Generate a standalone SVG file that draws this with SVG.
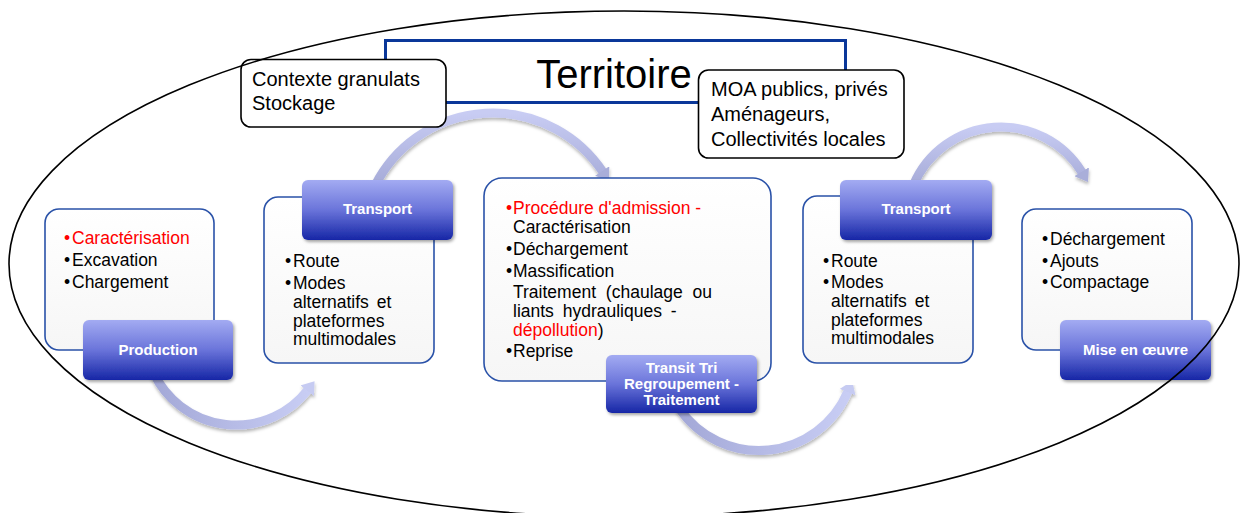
<svg xmlns="http://www.w3.org/2000/svg" width="1241" height="513" viewBox="0 0 1241 513">
  <defs>
    <style>
      .txt { font-family: "Liberation Sans", Arial, sans-serif; }
      .item { font-size: 17.5px; fill: #000; }
      .red { fill: #ff0000; }
      .box { font-size: 20px; fill: #000; }
      .lbl { font-size: 15px; font-weight: bold; fill: #ffffff; text-anchor: middle; }
      .panel { fill: url(#panelGrad); stroke: #2a52a8; stroke-width: 1.6; }
      .label { fill: url(#lblGrad); filter: url(#lblShadow); }
      .note { fill: #ffffff; stroke: #000; stroke-width: 1.6; }
      .arrowLo { fill: none; stroke: url(#arrowGradH); stroke-width: 9; filter: url(#arrowShadow); }
      .arrowHi { fill: none; stroke: url(#arrowGradV); stroke-width: 9; filter: url(#arrowShadow); }
    </style>
    <linearGradient id="lblGrad" x1="0" y1="0" x2="0" y2="1">
      <stop offset="0" stop-color="#a3abf2"/>
      <stop offset="0.5" stop-color="#6a74da"/>
      <stop offset="1" stop-color="#1626a6"/>
    </linearGradient>
    <linearGradient id="panelGrad" x1="0" y1="0" x2="0" y2="1">
      <stop offset="0" stop-color="#ffffff"/>
      <stop offset="1" stop-color="#f6f6f6"/>
    </linearGradient>
    <linearGradient id="arrowGradH" x1="0" y1="0" x2="1" y2="0">
      <stop offset="0" stop-color="#a3a8d7"/>
      <stop offset="1" stop-color="#c8cdf4"/>
    </linearGradient>
    <linearGradient id="arrowGradV" x1="0" y1="0" x2="0" y2="1">
      <stop offset="0" stop-color="#c8ccf3"/>
      <stop offset="1" stop-color="#a6abd8"/>
    </linearGradient>
    <filter id="lblShadow" x="-10%" y="-10%" width="130%" height="140%">
      <feDropShadow dx="1.5" dy="2" stdDeviation="1.5" flood-color="#000" flood-opacity="0.35"/>
    </filter>
    <filter id="arrowShadow" x="-10%" y="-10%" width="130%" height="140%">
      <feDropShadow dx="0.5" dy="2.5" stdDeviation="1.8" flood-color="#000" flood-opacity="0.28"/>
    </filter>
    <marker id="headLight" markerUnits="userSpaceOnUse" viewBox="0 0 12 17" markerWidth="12" markerHeight="17" refX="1" refY="8.5" orient="auto">
      <path d="M0,0 L12,8.5 L0,17 z" fill="#c6cbf2"/>
    </marker>
    <marker id="headDark" markerUnits="userSpaceOnUse" viewBox="0 0 12 17" markerWidth="12" markerHeight="17" refX="1" refY="8.5" orient="auto">
      <path d="M0,0 L12,8.5 L0,17 z" fill="#a9aed9"/>
    </marker>
  </defs>

  <rect width="1241" height="513" fill="#ffffff"/>

  <!-- title banner -->
  <g id="territoire">
    <rect x="385.5" y="40.5" width="460" height="62" fill="#ffffff" stroke="#0a3799" stroke-width="3"/>
    <text class="txt" x="614" y="88" font-size="40" text-anchor="middle" fill="#000">Territoire</text>
  </g>

  <!-- flow arrows between the stages -->
  <g id="connectors">
    <path class="arrowLo" d="M153.5,372.5 A91,91 0 0 0 307.8,389.9" marker-end="url(#headLight)"/>
    <path class="arrowHi" d="M375.4,185 A132,132 0 0 1 602.8,171.8" marker-end="url(#headDark)"/>
    <path class="arrowLo" d="M679,408 A96.5,96.5 0 0 0 848,391.2" marker-end="url(#headLight)"/>
    <path class="arrowHi" d="M913.5,185 A95,95 0 0 1 1082.2,172.6" marker-end="url(#headDark)"/>
  </g>

  <g id="contexte">
    <rect class="note" x="241" y="59.5" width="205" height="67.5" rx="10"/>
    <text class="txt box" x="252" y="86">Contexte granulats</text>
    <text class="txt box" x="252" y="110">Stockage</text>
  </g>

  <g id="moa">
    <rect class="note" x="698.5" y="70" width="205.5" height="88" rx="10"/>
    <text class="txt box" x="711" y="96">MOA publics, privés</text>
    <text class="txt box" x="711" y="121">Aménageurs,</text>
    <text class="txt box" x="711" y="146">Collectivités locales</text>
  </g>

  <g id="production">
    <rect class="panel" x="45" y="209" width="169" height="141" rx="14"/>
    <text class="txt item red" y="244"><tspan x="64">•</tspan><tspan x="72">Caractérisation</tspan></text>
    <text class="txt item" y="266"><tspan x="64">•</tspan><tspan x="72">Excavation</tspan></text>
    <text class="txt item" y="288"><tspan x="64">•</tspan><tspan x="72">Chargement</tspan></text>
    <rect class="label" x="83" y="320" width="150" height="60" rx="6"/>
    <text class="txt lbl" x="158" y="355">Production</text>
  </g>

  <g id="transport-1">
    <rect class="panel" x="264" y="197" width="170" height="166" rx="14"/>
    <text class="txt item" y="267"><tspan x="285">•</tspan><tspan x="293">Route</tspan></text>
    <text class="txt item" y="289"><tspan x="285">•</tspan><tspan x="293">Modes</tspan></text>
    <text class="txt item" x="293" y="308" word-spacing="3">alternatifs et</text>
    <text class="txt item" x="293" y="327">plateformes</text>
    <text class="txt item" x="293" y="345">multimodales</text>
    <rect class="label" x="302" y="180" width="151" height="60" rx="6"/>
    <text class="txt lbl" x="377.5" y="214">Transport</text>
  </g>

  <g id="transit">
    <rect class="panel" x="484" y="178" width="287" height="203" rx="18"/>
    <text class="txt item red" y="214"><tspan x="506">•</tspan><tspan x="513">Procédure d'admission -</tspan></text>
    <text class="txt item" x="513" y="233">Caractérisation</text>
    <text class="txt item" y="255"><tspan x="506">•</tspan><tspan x="513">Déchargement</tspan></text>
    <text class="txt item" y="277"><tspan x="506">•</tspan><tspan x="513">Massification</tspan></text>
    <text class="txt item" x="513" y="298" word-spacing="5">Traitement (chaulage ou</text>
    <text class="txt item" x="513" y="317" word-spacing="4">liants hydrauliques -</text>
    <text class="txt item" x="513" y="336"><tspan class="red">dépollution</tspan>)</text>
    <text class="txt item" y="357"><tspan x="506">•</tspan><tspan x="513">Reprise</tspan></text>
    <rect class="label" x="606" y="355" width="151" height="58" rx="6"/>
    <text class="txt lbl" x="681.5" y="373">Transit Tri</text>
    <text class="txt lbl" x="681.5" y="389">Regroupement -</text>
    <text class="txt lbl" x="681.5" y="405">Traitement</text>
  </g>

  <g id="transport-2">
    <rect class="panel" x="803" y="196" width="170" height="167" rx="14"/>
    <text class="txt item" y="267"><tspan x="823">•</tspan><tspan x="831">Route</tspan></text>
    <text class="txt item" y="288"><tspan x="823">•</tspan><tspan x="831">Modes</tspan></text>
    <text class="txt item" x="831" y="307" word-spacing="3">alternatifs et</text>
    <text class="txt item" x="831" y="326">plateformes</text>
    <text class="txt item" x="831" y="344">multimodales</text>
    <rect class="label" x="840" y="180" width="152" height="60" rx="6"/>
    <text class="txt lbl" x="916" y="214">Transport</text>
  </g>

  <g id="mise-en-oeuvre">
    <rect class="panel" x="1022" y="209" width="170" height="141" rx="14"/>
    <text class="txt item" y="245"><tspan x="1042">•</tspan><tspan x="1050">Déchargement</tspan></text>
    <text class="txt item" y="267"><tspan x="1042">•</tspan><tspan x="1050">Ajouts</tspan></text>
    <text class="txt item" y="288"><tspan x="1042">•</tspan><tspan x="1050">Compactage</tspan></text>
    <rect class="label" x="1060" y="320" width="151" height="60" rx="6"/>
    <text class="txt lbl" x="1135.5" y="355">Mise en œuvre</text>
  </g>

  <!-- territory boundary -->
  <g id="boundary">
    <ellipse cx="624" cy="264" rx="615" ry="253" fill="none" stroke="#000" stroke-width="1.6"/>
  </g>
</svg>
